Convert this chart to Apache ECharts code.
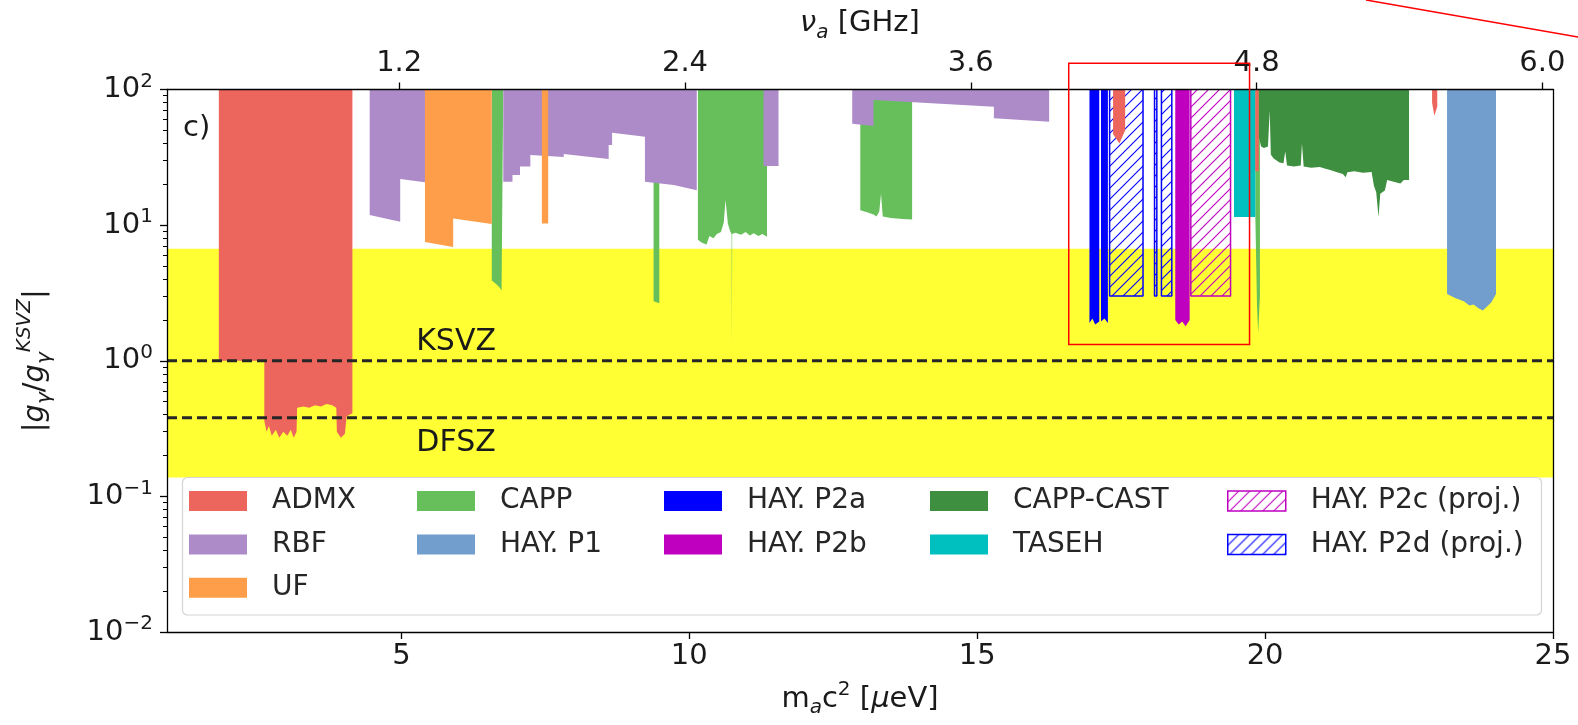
<!DOCTYPE html>
<html>
<head>
<meta charset="utf-8">
<script src="https://cdn.jsdelivr.net/npm/echarts@6/dist/echarts.min.js"></script>
<style>
html,body{margin:0;padding:0;background:#fff;}
#main{width:1578px;height:725px;}
</style>
</head>
<body>
<div id="main"></div>
<script>
// 軸範圍
const xMin = 0.93, xMax = 25;
const yMin = 0.01, yMax = 100;
const massTicks = [5, 10, 15, 20, 25];          // μeV
const freqTicks = [1.2, 2.4, 3.6, 4.8, 6.0];    // GHz
const ueVperGHz = 4.1357;

const bandRange = [0.138, 6.7];   // 黃色帶
const KSVZ = 1.0, DFSZ = 0.38;
const labelKSVZ = [5.95, 1.36];
const labelDFSZ = [5.95, 0.248];
const callout = [16.59, 19.73, 1.32, 156];   // 紅框 (x0,x1,y0,y1)

// 各實驗排除區 (下緣)，填到上方
const admx = [
    [[1.83,1.0],[2.62,1.0],[2.62,0.36],[2.66,0.30],[2.70,0.33],[2.75,0.28],[2.82,0.31],[2.88,0.27],[2.95,0.30],[3.02,0.28],[3.08,0.31],[3.13,0.27],[3.18,0.30],[3.19,0.45],[3.30,0.46],[3.40,0.45],[3.50,0.47],[3.60,0.46],[3.70,0.48],[3.80,0.47],[3.87,0.45],[3.88,0.30],[3.95,0.27],[4.02,0.29],[4.05,0.39],[4.15,0.41]],
    [[17.36,47],[17.47,40],[17.57,50]],
    [[19.83,25],[19.89,25]],
    [[22.90,80],[22.94,64],[22.99,75]]
];
const rbf = [
    [[4.45,11.9],[4.98,10.6],[4.98,21.9],[5.41,20.7]],
    [[6.77,20.9],[6.93,20.9],[6.93,23.4],[7.06,23.4],[7.06,27.0],[7.24,27.0],[7.24,32.9],[7.82,31.8],[7.82,33.5],[8.60,30.7],[8.60,39.0],[8.66,39.0],[8.66,48.0],[9.23,44.9],[9.23,20.9],[9.73,19.8],[9.73,19.2],[10.13,18.1]],
    [[11.29,27.3],[11.55,27.3]],
    [[12.83,56],[13.20,53.7],[13.20,83.7],[15.29,74.7],[15.29,61.3],[16.25,57.9]]
];
const uf = [
    [[5.41,7.5],[5.90,6.9],[5.90,11.2],[6.57,10.2]],
    [[7.44,10.3],[7.55,10.3]]
];
const capp = [
    [[6.57,3.9],[6.64,3.7],[6.70,3.5],[6.74,3.3],[6.77,3.4]],
    [[9.38,2.75],[9.48,2.65]],
    [[10.15,7.8],[10.22,7.4],[10.30,7.2],[10.35,8.3],[10.42,8.0],[10.48,8.6],[10.55,8.9],[10.60,10.5],[10.63,15.3],[10.67,10.3],[10.71,9.0],[10.735,8.6],[10.74,1.2],[10.745,8.6],[10.80,8.8],[10.90,8.5],[10.98,8.9],[11.05,8.4],[11.12,8.7],[11.20,8.3],[11.27,8.6],[11.35,8.2]],
    [[12.97,12.9],[13.10,12.4],[13.20,12.0],[13.25,11.6],[13.30,12.6],[13.33,17.0],[13.36,11.6],[13.50,11.3],[13.70,11.1],[13.87,11.0]],
    [[19.83,12],[19.86,2.5],[19.88,1.6],[19.91,3.0]]
];
const hayP1 = [
    [[23.16,3.1],[23.30,2.9],[23.45,2.75],[23.55,2.55],[23.62,2.6],[23.70,2.45],[23.78,2.35],[23.85,2.5],[23.93,2.7],[24.01,3.1]]
];
const hayP2a = [
    [[16.95,1.9],[17.00,2.05],[17.05,1.85],[17.12,1.95]],
    [[17.15,1.95],[17.21,2.05],[17.27,1.9]]
];
const hayP2b = [
    [[18.44,2.0],[18.50,1.85],[18.56,1.95],[18.62,1.8],[18.69,2.0]]
];
const cappCast = [
    [[19.89,45],[19.93,38],[19.98,37],[20.05,38],[20.08,70],[20.10,33],[20.15,31],[20.25,29],[20.32,28.6],[20.35,35],[20.38,27.5],[20.50,27],[20.62,27.5],[20.64,40],[20.67,27],[20.80,26.5],[20.95,26.8],[21.05,26.0],[21.13,25.5],[21.25,24.5],[21.35,23.8],[21.40,22.5],[21.43,24.5],[21.55,25.0],[21.70,24.3],[21.85,24.6],[21.89,19.5],[21.93,17.5],[21.97,11.5],[22.00,17],[22.08,18],[22.12,21.5],[22.25,20.8],[22.35,20.3],[22.41,21.5],[22.50,21.5]]
];
const taseh = [
    [[19.46,11.5],[19.83,11.5]]
];
// 預計 (斜線)：[x0, x1, 下緣]
const hayP2c = [[18.71, 19.40, 3.0]];
const hayP2d = [[17.30, 17.88, 3.0], [18.08, 18.12, 3.0], [18.20, 18.38, 3.0]];

const legendCols = [
    ['ADMX', 'RBF', 'UF'],
    ['CAPP', 'HAY. P1'],
    ['HAY. P2a', 'HAY. P2b'],
    ['CAPP-CAST', 'TASEH'],
    ['HAY. P2c (proj.)', 'HAY. P2d (proj.)']
];
const legendLeft = [189, 417, 664, 930, 1227];

const FONT = 'DejaVu Sans';

function makeHatch(color){
    let c = document.createElement('canvas');
    c.width = 11; c.height = 11;
    let g = c.getContext('2d');
    g.strokeStyle = color; g.lineWidth = 1.1;
    g.beginPath();
    g.moveTo(0, 11); g.lineTo(11, 0);
    g.moveTo(-2, 2); g.lineTo(2, -2);
    g.moveTo(9, 13); g.lineTo(13, 9);
    g.stroke();
    return c;
}

function fillSeries(name, segs, color, z){
    return segs.map(function(seg){
        return {
            name: name, type: 'line', data: seg, z: z,
            symbol: 'none', silent: true, animation: false,
            lineStyle: {width: 0, color: color},
            itemStyle: {color: color},
            areaStyle: {origin: 'end', color: color, opacity: 1}
        };
    });
}

function hatchSeries(name, rects, color, z){
    let pat = {image: makeHatch(color), repeat: 'repeat'};
    return rects.map(function(r){
        return {
            name: name, type: 'line', z: z,
            data: [[r[0], yMax], [r[0], r[2]], [r[1], r[2]], [r[1], yMax]],
            symbol: 'none', silent: true, animation: false,
            lineStyle: {width: 1.5, color: color},
            itemStyle: {color: color},
            areaStyle: {origin: 'end', color: pat, opacity: 1}
        };
    });
}

let hatchLegend = {
    'HAY. P2c (proj.)': {color: {image: makeHatch('#c000c0'), repeat: 'repeat'}, borderColor: '#c000c0', borderWidth: 1.5},
    'HAY. P2d (proj.)': {color: {image: makeHatch('#0000ff'), repeat: 'repeat'}, borderColor: '#0000ff', borderWidth: 1.5}
};

let minorTicks = [];
for (let d = -2; d < 2; d++) {
    for (let k = 2; k < 10; k++) minorTicks.push(k * Math.pow(10, d));
}

let myChart = echarts.init(document.getElementById('main'));

let series = [
    {
        name: 'band', type: 'line', data: [], z: 1, silent: true, animation: false,
        markArea: {silent: true, itemStyle: {color: '#ffff33'},
            data: [[{yAxis: bandRange[0]}, {yAxis: bandRange[1]}]]}
    }
]
.concat(fillSeries('CAPP', capp, '#67bf5c', 2))
.concat(fillSeries('RBF', rbf, '#ad8bc9', 3))
.concat(fillSeries('UF', uf, '#ff9e4a', 4))
.concat(fillSeries('CAPP-CAST', cappCast, '#3e8f40', 4))
.concat(fillSeries('TASEH', taseh, '#00bfbf', 4))
.concat(fillSeries('HAY. P1', hayP1, '#729ece', 4))
.concat(fillSeries('HAY. P2a', hayP2a, '#0000ff', 4))
.concat(fillSeries('HAY. P2b', hayP2b, '#bf00bf', 4))
.concat(hatchSeries('HAY. P2c (proj.)', hayP2c, '#c000c0', 5))
.concat(hatchSeries('HAY. P2d (proj.)', hayP2d, '#0000ff', 5))
.concat(fillSeries('ADMX', admx, '#ed665d', 6))
.concat([
    {name: 'KSVZ', type: 'line', z: 7, symbol: 'none', silent: true, animation: false,
     data: [[xMin, KSVZ], [xMax, KSVZ]], lineStyle: {color: '#262626', width: 3, type: [10, 5]}},
    {name: 'DFSZ', type: 'line', z: 7, symbol: 'none', silent: true, animation: false,
     data: [[xMin, DFSZ], [xMax, DFSZ]], lineStyle: {color: '#262626', width: 3, type: [10, 5]}}
]);

let axisLine = {show: true, lineStyle: {color: '#000', width: 1.3}};
let tickStyle = {lineStyle: {color: '#000', width: 1.3}};

let option = {
    animation: false,
    textStyle: {fontFamily: FONT},
    title: {text: 'c)', left: 183, top: 114, padding: 0,
        textStyle: {fontSize: 29, fontWeight: 'normal', color: '#1a1a1a', fontFamily: FONT}},
    grid: {left: 167, right: 25, top: 89.5, bottom: 93, containLabel: false},
    legend: legendCols.map(function(col, i){
        return {
            orient: 'vertical', left: legendLeft[i], top: 487, padding: 0,
            itemGap: 15.4, itemWidth: 58, itemHeight: 20, icon: 'rect',
            selectedMode: false, z: 12,
            textStyle: {fontSize: 28, lineHeight: 28, color: '#262626', padding: [0, 0, 0, 20], fontFamily: FONT},
            data: col.map(function(n){ return hatchLegend[n] ? {name: n, itemStyle: hatchLegend[n]} : n; })
        };
    }),
    xAxis: [
        {
            type: 'value', position: 'bottom', min: xMin, max: xMax, z: 10,
            splitLine: {show: false}, axisLine: axisLine,
            axisTick: {show: true, length: 7, customValues: massTicks, lineStyle: tickStyle.lineStyle},
            axisLabel: {customValues: massTicks, fontSize: 29, color: '#1a1a1a', margin: 10, fontFamily: FONT},
            name: '{t|m}{s|a}{t|c}{p|2}{t| [}{i|μ}{t|eV]}',
            nameLocation: 'middle', nameGap: 48,
            nameTextStyle: {rich: {
                t: {fontSize: 29, lineHeight: 38, color: '#1a1a1a', fontFamily: FONT},
                i: {fontSize: 29, lineHeight: 38, fontStyle: 'italic', color: '#1a1a1a', fontFamily: FONT},
                s: {fontSize: 20, lineHeight: 20, verticalAlign: 'bottom', fontStyle: 'italic', color: '#1a1a1a', fontFamily: FONT},
                p: {fontSize: 20, lineHeight: 20, verticalAlign: 'top', color: '#1a1a1a', fontFamily: FONT}
            }}
        },
        {
            type: 'value', position: 'top', min: xMin, max: xMax, z: 10,
            splitLine: {show: false}, axisLine: axisLine,
            axisTick: {show: true, length: 7, customValues: freqTicks.map(function(f){ return f * ueVperGHz; }), lineStyle: tickStyle.lineStyle},
            axisLabel: {customValues: freqTicks.map(function(f){ return f * ueVperGHz; }),
                formatter: function(v){ return (v / ueVperGHz).toFixed(1); },
                fontSize: 29, color: '#1a1a1a', margin: 12, fontFamily: FONT},
            name: '{i|ν}{s|a}{t| [GHz]}',
            nameLocation: 'middle', nameGap: 47,
            nameTextStyle: {rich: {
                t: {fontSize: 29, lineHeight: 38, color: '#1a1a1a', fontFamily: FONT},
                i: {fontSize: 29, lineHeight: 38, fontStyle: 'italic', color: '#1a1a1a', fontFamily: FONT},
                s: {fontSize: 20, lineHeight: 20, verticalAlign: 'bottom', fontStyle: 'italic', color: '#1a1a1a', fontFamily: FONT}
            }}
        }
    ],
    yAxis: [
        {
            type: 'log', logBase: 10, min: yMin, max: yMax, position: 'left', z: 10,
            splitLine: {show: false}, axisLine: axisLine,
            axisTick: {show: true, length: 7, lineStyle: tickStyle.lineStyle},
            axisLabel: {
                margin: 14, color: '#1a1a1a',
                formatter: function(v){
                    let e = Math.round(Math.log10(v));
                    return '{b|10}{e|' + (e < 0 ? '\u2212' + (-e) : e) + '}';
                },
                rich: {
                    b: {fontSize: 29, lineHeight: 36, color: '#1a1a1a', fontFamily: FONT},
                    e: {fontSize: 20, lineHeight: 20, verticalAlign: 'top', color: '#1a1a1a', fontFamily: FONT}
                }
            },
            name: '{t||}{g|g}{s|γ}{t|/}{g|g}{s|γ}{p|KSVZ}{t||}',
            nameLocation: 'middle', nameRotate: 90, nameGap: 112,
            nameTextStyle: {rich: {
                t: {fontSize: 29, lineHeight: 40, color: '#1a1a1a', fontFamily: FONT},
                g: {fontSize: 29, lineHeight: 40, fontStyle: 'italic', color: '#1a1a1a', fontFamily: FONT},
                s: {fontSize: 20, lineHeight: 20, verticalAlign: 'bottom', fontStyle: 'italic', color: '#1a1a1a', fontFamily: FONT},
                p: {fontSize: 20, lineHeight: 20, verticalAlign: 'top', fontStyle: 'italic', color: '#1a1a1a', fontFamily: FONT}
            }}
        },
        {
            // 次刻度
            type: 'log', logBase: 10, min: yMin, max: yMax, position: 'left', z: 10,
            splitLine: {show: false}, axisLine: {show: false},
            axisTick: {show: true, length: 4, customValues: minorTicks, lineStyle: {color: '#000', width: 1}},
            axisLabel: {show: false}
        },
        {
            type: 'log', logBase: 10, min: yMin, max: yMax, position: 'right', z: 10,
            splitLine: {show: false}, axisLine: axisLine,
            axisTick: {show: false}, axisLabel: {show: false}
        }
    ],
    series: series
};

myChart.setOption(option);

// 標註：KSVZ / DFSZ 文字、紅框、紅線
let finder = {seriesIndex: 1};
let pK = myChart.convertToPixel(finder, labelKSVZ);
let pD = myChart.convertToPixel(finder, labelDFSZ);
let r0 = myChart.convertToPixel(finder, [callout[0], callout[3]]);
let r1 = myChart.convertToPixel(finder, [callout[1], callout[2]]);

myChart.setOption({
    graphic: [
        {type: 'rect', z: 11, silent: true,
         shape: {x: 182.5, y: 477.5, width: 1359, height: 137.5, r: 5},
         style: {fill: 'rgba(255,255,255,0.92)', stroke: '#d4d4d4', lineWidth: 1.2}},
        {type: 'text', z: 8, silent: true, x: pK[0], y: pK[1],
         style: {text: 'KSVZ', fontSize: 30, fontFamily: FONT, fill: '#1a1a1a', align: 'center', verticalAlign: 'middle'}},
        {type: 'text', z: 8, silent: true, x: pD[0], y: pD[1],
         style: {text: 'DFSZ', fontSize: 30, fontFamily: FONT, fill: '#1a1a1a', align: 'center', verticalAlign: 'middle'}},
        {type: 'rect', z: 20, silent: true,
         shape: {x: r0[0], y: r0[1], width: r1[0] - r0[0], height: r1[1] - r0[1]},
         style: {fill: 'none', stroke: '#ff0000', lineWidth: 1.5}},
        {type: 'line', z: 20, silent: true,
         shape: {x1: 1366, y1: 0, x2: 1578, y2: 37},
         style: {stroke: '#ff0000', lineWidth: 1.5}}
    ]
});

window.onresize = function(){ myChart.resize(); };
</script>
</body>
</html>
